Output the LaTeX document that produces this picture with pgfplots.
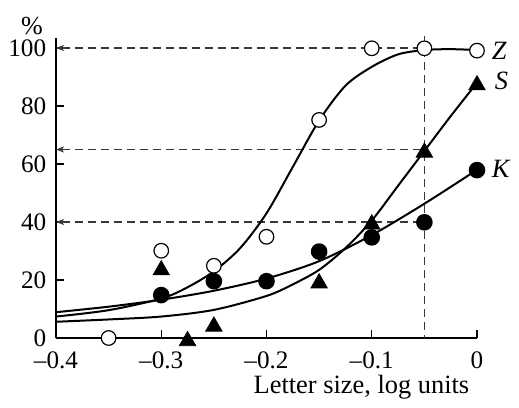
\documentclass[border=0pt]{standalone}
\usepackage{fontspec}
\setmainfont{Liberation Serif}
\usepackage{pgfplots}
\pgfplotsset{compat=1.18}
\usetikzlibrary{arrows.meta}
\begin{document}
\fontsize{12.6}{14}\selectfont
\begin{tikzpicture}
\begin{axis}[
  scale only axis, width=210.5pt, height=150pt,
  xmin=-0.4, xmax=0, ymin=0, ymax=103.45,
  axis x line*=bottom, axis y line*=left,
  axis line style={line width=0.8pt},
  tick align=inside, major tick length=4pt,
  tick style={line width=0.7pt, black},
  xtick={-0.4,-0.3,-0.2,-0.1,0},
  xticklabels={{\textendash0.4},{\textendash0.3},{\textendash0.2},{\textendash0.1},0},
  ytick={0,20,40,60,80,100},
  /pgf/number format/assume math mode=true,
  ticklabel style={font=\fontsize{12.6}{14}\selectfont},
  xticklabel style={yshift=-2.5pt},
  yticklabel style={xshift=-0.5pt},
  clip=false,
  every axis plot/.append style={line width=1pt},
]
% guide lines
\addplot[dashed, dash pattern=on 4pt off 2.5pt, line width=0.6pt, black!78, {Stealth[length=4pt,width=3pt,inset=1pt]}-] coordinates {(-0.4,100) (-0.05,100)};
\addplot[dashed, dash pattern=on 4pt off 2.5pt, line width=0.6pt, black!78, {Stealth[length=4pt,width=3pt,inset=1pt]}-] coordinates {(-0.4,65) (-0.05,65)};
\addplot[dashed, dash pattern=on 4pt off 2.5pt, line width=0.6pt, black!78, {Stealth[length=4pt,width=3pt,inset=1pt]}-] coordinates {(-0.4,40) (-0.05,40)};
\addplot[dashed, dash pattern=on 4pt off 2.5pt, line width=0.6pt, black!78] coordinates {(-0.05,104) (-0.05,0)};
% fitted curves
\addplot[black, smooth, no marks] coordinates {(-0.4,7.4) (-0.35,9.6) (-0.3,13.6) (-0.275,17.5) (-0.25,23) (-0.225,31) (-0.2,43) (-0.175,59) (-0.15,75) (-0.125,87) (-0.1,93.5) (-0.075,97.8) (-0.05,99.3) (-0.025,99.6) (0,99.3)};
\addplot[black, smooth, no marks] coordinates {(-0.4,5.6) (-0.35,6.4) (-0.3,7.4) (-0.25,9.7) (-0.2,14.5) (-0.175,18.5) (-0.15,23.5) (-0.125,31) (-0.1,40.5) (-0.075,52.5) (-0.05,64.5) (-0.025,76.5) (0,88)};
\addplot[black, smooth, no marks] coordinates {(-0.4,8.9) (-0.35,10.8) (-0.3,13.2) (-0.25,16.3) (-0.2,20.5) (-0.15,26.5) (-0.1,35.5) (-0.05,46.3) (0,58)};
% data points
\addplot[only marks, mark=*, mark size=3.65pt, mark options={fill=white, draw=black, line width=0.6pt}] coordinates {(-0.35,0) (-0.3,30.1) (-0.25,24.9) (-0.2,34.9) (-0.15,75.2) (-0.1,99.9) (-0.05,99.9) (0,99.1)};
\addplot[only marks, mark=triangle*, mark size=4.8pt, mark options={fill=black, draw=black, line width=0.3pt}] coordinates {(-0.3,23.4) (-0.275,-1) (-0.25,4) (-0.15,18.9) (-0.1,39.2) (-0.05,64) (0,87.2)};
\addplot[only marks, mark=*, mark size=3.65pt, mark options={fill=black, draw=black}] coordinates {(-0.3,14.8) (-0.25,19.6) (-0.2,19.6) (-0.15,29.8) (-0.1,34.7) (-0.05,39.9) (0,57.9)};
% series labels
\node[anchor=west, xshift=3pt, font=\fontsize{13.2}{15}\selectfont\itshape] at (axis cs:0,99.1) {Z};
\node[anchor=west, xshift=4.5pt, font=\fontsize{13.2}{15}\selectfont\itshape] at (axis cs:0,88.6) {S};
\node[anchor=west, xshift=3pt, font=\fontsize{13.2}{15}\selectfont\itshape] at (axis cs:0,58.4) {K};
% axis labels
\node[anchor=base east, font=\fontsize{13.2}{15}\selectfont] at ([yshift=-27.7pt, xshift=0.5pt]rel axis cs:1,0) {Letter size, log units};
\node[anchor=base, font=\fontsize{13}{15}\selectfont] at ([xshift=-12pt, yshift=2pt]rel axis cs:0,1) {\%};
\coordinate (o) at (axis cs:-0.4,0);
\end{axis}
\path (o) ++(-28pt,-29.5pt) rectangle ++(259.5pt,198.5pt);
\end{tikzpicture}
\end{document}
